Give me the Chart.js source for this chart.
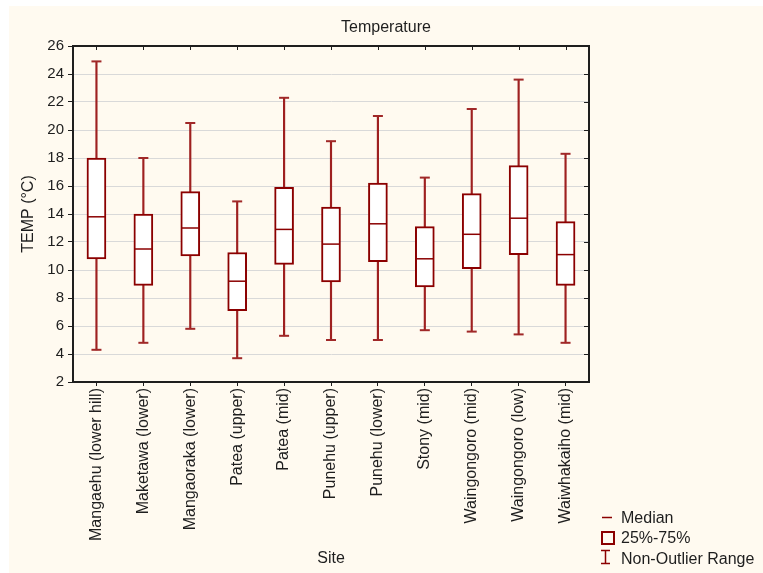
<!DOCTYPE html>
<html>
<head>
<meta charset="utf-8">
<script src="https://cdn.jsdelivr.net/npm/chart.js@4.4.1/dist/chart.umd.min.js"></script>
<style>
  html, body { margin: 0; padding: 0; background: #ffffff; }
  #wrap { position: absolute; left: 9px; top: 6px; width: 754px; height: 567px; background: #fffaf0; }
</style>
</head>
<body>
<div id="wrap"><canvas id="chart" width="754" height="567"></canvas></div>
<script>
// site names along the x axis
const sites = [
  'Mangaehu (lower hill)', 'Maketawa (lower)', 'Mangaoraka (lower)', 'Patea (upper)',
  'Patea (mid)', 'Punehu (upper)', 'Punehu (lower)', 'Stony (mid)',
  'Waingongoro (mid)', 'Waingongoro (low)', 'Waiwhakaiho (mid)'
];

// non-outlier min / max, quartiles and medians (°C)
const minVals = [4.3, 4.8, 5.8, 3.7, 5.3, 5.0, 5.0, 5.7, 5.6, 5.4, 4.8];
const q1Vals = [10.8, 8.9, 11.0, 7.1, 10.4, 9.15, 10.6, 8.8, 10.1, 11.1, 8.9];
const medianVals = [13.8, 11.5, 13.0, 9.2, 12.9, 11.85, 13.3, 10.8, 12.55, 13.7, 11.1];
const q3Vals = [18.0, 14.0, 15.6, 11.25, 15.9, 14.5, 16.2, 13.1, 15.45, 17.45, 13.45];
const maxVals = [24.9, 18.0, 20.5, 14.9, 22.3, 19.2, 21.0, 16.6, 21.5, 23.6, 18.3];

const yTicks = [2, 4, 6, 8, 10, 12, 14, 16, 18, 20, 22, 24, 26];

const RED = '#8b0000';
const TEXT = '#1e1e1e';
const FONT = 'Liberation Sans, Arial, sans-serif';

// frame on all four sides plus inward ticks on top / right, like the original
const framePlugin = {
  id: 'frame',
  afterDraw(chart) {
    const { ctx, chartArea: a, scales } = chart;
    ctx.save();
    ctx.strokeStyle = TEXT;
    ctx.lineWidth = 1;
    sites.forEach((s, i) => {
      const px = Math.round(scales.x.getPixelForValue(i)) + 0.5;
      ctx.beginPath();
      ctx.moveTo(px, a.top);
      ctx.lineTo(px, a.top + 4);
      ctx.stroke();
    });
    yTicks.forEach(v => {
      const py = Math.round(scales.y.getPixelForValue(v)) + 0.5;
      ctx.beginPath();
      ctx.moveTo(a.right, py);
      ctx.lineTo(a.right - 5, py);
      ctx.stroke();
    });
    ctx.lineWidth = 2;
    ctx.strokeRect(a.left, a.top, a.right - a.left, a.bottom - a.top);
    ctx.restore();
  }
};

// the little key in the bottom right corner
const keyPlugin = {
  id: 'boxKey',
  afterDraw(chart) {
    const ctx = chart.ctx;
    ctx.save();
    ctx.strokeStyle = RED;
    // median dash
    ctx.lineWidth = 1.5;
    ctx.beginPath();
    ctx.moveTo(593, 511.5);
    ctx.lineTo(603, 511.5);
    ctx.stroke();
    // box
    ctx.lineWidth = 2;
    ctx.strokeRect(593, 526, 12, 12);
    // whisker
    ctx.lineWidth = 1.5;
    ctx.beginPath();
    ctx.moveTo(592, 544.5); ctx.lineTo(601, 544.5);
    ctx.moveTo(596.5, 544.5); ctx.lineTo(596.5, 557.5);
    ctx.moveTo(592, 557.5); ctx.lineTo(601, 557.5);
    ctx.stroke();

    ctx.fillStyle = TEXT;
    ctx.font = '16px ' + FONT;
    ctx.textBaseline = 'middle';
    ctx.fillText('Median', 612, 513);
    ctx.fillText('25%-75%', 612, 533);
    ctx.fillText('Non-Outlier Range', 612, 554);
    ctx.restore();
  }
};

const ctx = document.getElementById('chart').getContext('2d');

new Chart(ctx, {
  type: 'bar',
  data: {
    labels: sites,
    datasets: [
      {
        label: 'Non-Outlier Range',
        data: sites.map((s, i) => [minVals[i], maxVals[i]]),
        backgroundColor: '#9e2020',
        barThickness: 1.5,
        grouped: false,
        order: 3
      },
      {
        label: '25%-75%',
        data: sites.map((s, i) => [q1Vals[i], q3Vals[i]]),
        backgroundColor: '#ffffff',
        borderColor: RED,
        borderWidth: 2,
        borderSkipped: false,
        barThickness: 19,
        grouped: false,
        order: 2
      },
      {
        type: 'line',
        label: 'Median',
        data: medianVals,
        showLine: false,
        pointStyle: 'line',
        pointRadius: 8.5,
        pointBorderWidth: 1.5,
        pointBorderColor: RED,
        order: 1
      },
      {
        type: 'line',
        label: 'max',
        data: maxVals,
        showLine: false,
        pointStyle: 'line',
        pointRadius: 5,
        pointBorderWidth: 2,
        pointBorderColor: '#a02828',
        order: 1
      },
      {
        type: 'line',
        label: 'min',
        data: minVals,
        showLine: false,
        pointStyle: 'line',
        pointRadius: 5,
        pointBorderWidth: 2,
        pointBorderColor: '#a02828',
        order: 1
      }
    ]
  },
  options: {
    responsive: false,
    animation: false,
    events: [],
    layout: { padding: 0 },
    plugins: {
      legend: { display: false },
      tooltip: { enabled: false },
      title: {
        display: true,
        text: 'Temperature',
        color: TEXT,
        font: { family: FONT, size: 16, weight: 'normal' },
        padding: { top: 12.4, bottom: 8.4 }
      }
    },
    scales: {
      x: {
        offset: true,
        grid: { drawOnChartArea: false, offset: false, tickLength: 4, tickColor: TEXT },
        border: { color: TEXT, width: 2 },
        ticks: {
          minRotation: 90,
          maxRotation: 90,
          padding: 2,
          color: TEXT,
          font: { family: FONT, size: 16 }
        },
        title: {
          display: true,
          text: 'Site',
          color: TEXT,
          font: { family: FONT, size: 16 },
          padding: { top: 0, bottom: 4.4 }
        },
        afterFit: s => { s.height = 191; }
      },
      y: {
        min: 2,
        max: 26,
        grid: { color: '#d9d9d9', tickColor: TEXT, tickLength: 5 },
        border: { color: TEXT, width: 2 },
        ticks: {
          stepSize: 2,
          padding: 4,
          color: TEXT,
          font: { family: FONT, size: 15 }
        },
        title: {
          display: true,
          text: 'TEMP (°C)',
          color: TEXT,
          font: { family: FONT, size: 16 },
          padding: { top: 10.4, bottom: 0 }
        },
        afterFit: s => { s.width = 64; }
      },
      // empty right axis that only reserves the space where the key sits
      yKey: {
        position: 'right',
        min: 2,
        max: 26,
        grid: { display: false },
        border: { display: false },
        ticks: { display: false },
        afterFit: s => { s.width = 174; }
      }
    }
  },
  plugins: [framePlugin, keyPlugin]
});
</script>
</body>
</html>
